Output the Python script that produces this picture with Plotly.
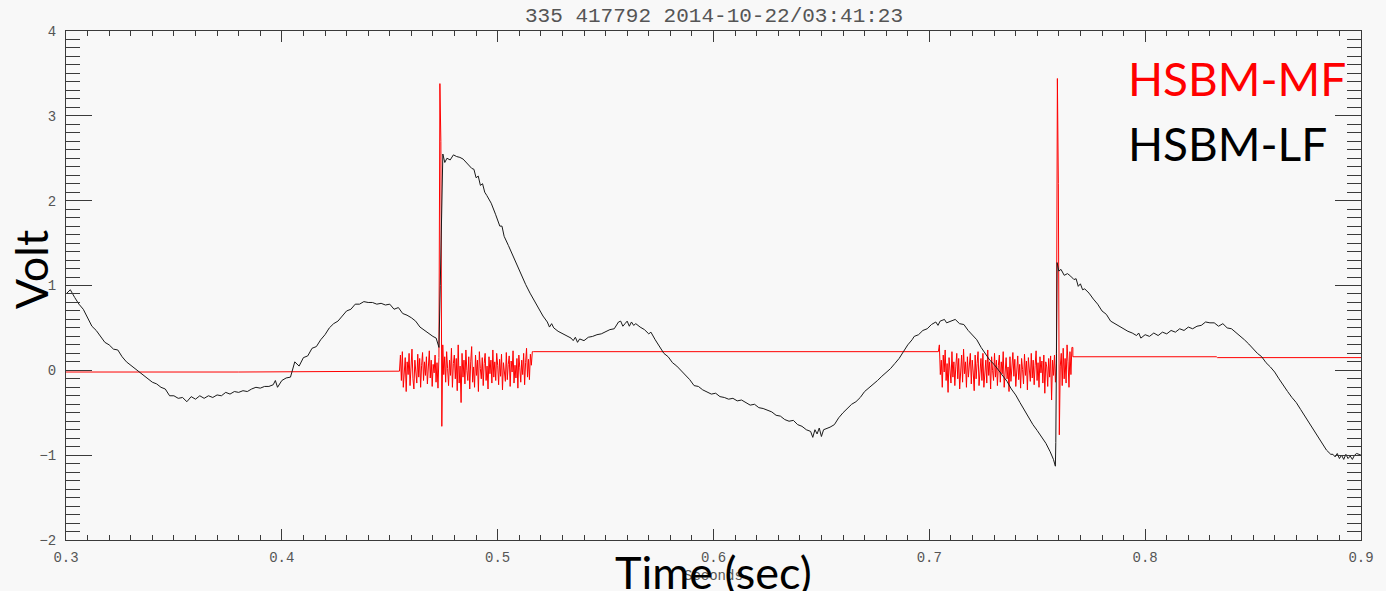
import numpy as np
import plotly.graph_objects as go

# ---------------- data ----------------
title_text = "335 417792 2014-10-22/03:41:23"
x_ticks = [0.3, 0.4, 0.5, 0.6, 0.7, 0.8, 0.9]
y_ticks = [-2, -1, 0, 1, 2, 3, 4]

# HSBM-LF (black) : time (s), volt
lf_time = [0.300, 0.302, 0.304, 0.306, 0.308, 0.310, 0.312, 0.314, 0.316, 0.318, 0.320, 0.322, 0.324, 0.326,
           0.328, 0.330, 0.332, 0.334, 0.336, 0.338, 0.340, 0.342, 0.344, 0.346, 0.348, 0.350, 0.352, 0.354,
           0.356, 0.358, 0.360, 0.362, 0.364, 0.366, 0.368, 0.370, 0.372, 0.374, 0.376, 0.378, 0.380, 0.382,
           0.384, 0.386, 0.388, 0.390, 0.392, 0.394, 0.396, 0.397, 0.398, 0.400, 0.402, 0.404, 0.405, 0.406,
           0.408, 0.410, 0.412, 0.414, 0.416, 0.418, 0.420, 0.422, 0.424, 0.426, 0.428, 0.430, 0.432, 0.434,
           0.436, 0.438, 0.440, 0.442, 0.444, 0.446, 0.448, 0.450, 0.452, 0.454, 0.456, 0.458, 0.460, 0.462,
           0.464, 0.466, 0.468, 0.470, 0.4715, 0.4722, 0.4728,
           0.4734, 0.4740, 0.4746, 0.4755, 0.4765, 0.478, 0.4795, 0.481, 0.4825, 0.484, 0.486, 0.488, 0.489,
           0.490, 0.491, 0.492, 0.493, 0.494, 0.495, 0.497, 0.499, 0.501, 0.502, 0.503, 0.505, 0.507, 0.509,
           0.511, 0.513, 0.515, 0.517, 0.519, 0.521, 0.523, 0.524, 0.525, 0.526, 0.528, 0.530, 0.532, 0.534,
           0.535, 0.536, 0.537, 0.538, 0.540, 0.542, 0.544, 0.546, 0.548, 0.550, 0.552, 0.554, 0.556, 0.557,
           0.558, 0.559, 0.560, 0.561, 0.562, 0.563, 0.564, 0.566, 0.568, 0.570, 0.571, 0.573, 0.575, 0.577,
           0.579, 0.581, 0.583, 0.585, 0.587, 0.589, 0.591, 0.593, 0.595, 0.597, 0.599, 0.601, 0.603, 0.605,
           0.607, 0.609, 0.611, 0.613, 0.615, 0.617, 0.619, 0.621, 0.623, 0.625, 0.627, 0.629, 0.631, 0.633,
           0.635, 0.637, 0.639, 0.641, 0.643, 0.645, 0.646, 0.647, 0.648, 0.649, 0.650, 0.651, 0.652, 0.654,
           0.656, 0.658, 0.660, 0.662, 0.664, 0.666, 0.668, 0.670, 0.672, 0.674, 0.676, 0.678, 0.680, 0.682,
           0.684, 0.686, 0.688, 0.690, 0.692, 0.693, 0.695, 0.697, 0.699, 0.701, 0.703, 0.704, 0.705, 0.707,
           0.708, 0.710, 0.712, 0.714, 0.716, 0.718, 0.720, 0.722, 0.724, 0.726, 0.728, 0.730, 0.732, 0.734,
           0.736, 0.738, 0.740, 0.742, 0.744, 0.746, 0.748, 0.750, 0.752, 0.754, 0.756, 0.7575, 0.7584, 0.7586,
           0.7589, 0.7592, 0.760, 0.761, 0.7625, 0.764, 0.7655, 0.767, 0.768, 0.769, 0.770, 0.771, 0.772, 0.774,
           0.776, 0.778, 0.780, 0.782, 0.784, 0.786, 0.788, 0.790, 0.792, 0.794, 0.796, 0.797, 0.798, 0.800,
           0.802, 0.804, 0.806, 0.808, 0.810, 0.812, 0.814, 0.816, 0.818, 0.820, 0.822, 0.824, 0.826, 0.828,
           0.830, 0.832, 0.834, 0.836, 0.838, 0.840, 0.842, 0.844, 0.846, 0.848, 0.850, 0.852, 0.854, 0.856,
           0.858, 0.860, 0.862, 0.864, 0.866, 0.868, 0.870, 0.872, 0.874, 0.876, 0.878, 0.880, 0.882, 0.884,
           0.886, 0.887, 0.888, 0.889, 0.890, 0.891, 0.892, 0.893, 0.894, 0.895, 0.896, 0.897, 0.898, 0.900]
lf_volt = [0.90, 0.95, 0.86, 0.78, 0.72, 0.62, 0.52, 0.47, 0.40, 0.33, 0.30, 0.25, 0.24, 0.16,
           0.10, 0.06, 0.02, -0.02, -0.05, -0.10, -0.14, -0.16, -0.20, -0.22, -0.30, -0.30, -0.33, -0.32,
           -0.37, -0.31, -0.34, -0.30, -0.33, -0.30, -0.32, -0.29, -0.30, -0.26, -0.28, -0.25, -0.26, -0.24,
           -0.25, -0.22, -0.20, -0.21, -0.19, -0.19, -0.17, -0.12, -0.20, -0.12, -0.09, -0.08, 0.02, 0.10,
           0.05, 0.15, 0.17, 0.26, 0.28, 0.36, 0.42, 0.50, 0.55, 0.58, 0.64, 0.70, 0.72, 0.78,
           0.78, 0.81, 0.80, 0.80, 0.78, 0.79, 0.77, 0.78, 0.72, 0.74, 0.67, 0.65, 0.62, 0.58,
           0.51, 0.47, 0.44, 0.40, 0.38, 0.31, 0.27,
           1.00, 1.90, 2.55, 2.45, 2.50, 2.48, 2.54, 2.52, 2.51, 2.49, 2.44, 2.38, 2.37,
           2.27, 2.29, 2.18, 2.20, 2.10, 2.06, 1.97, 1.84, 1.70, 1.70, 1.58, 1.47, 1.35, 1.25,
           1.13, 1.01, 0.91, 0.82, 0.72, 0.64, 0.57, 0.51, 0.55, 0.50, 0.46, 0.43, 0.41, 0.38,
           0.35, 0.39, 0.33, 0.37, 0.35, 0.39, 0.40, 0.42, 0.43, 0.46, 0.48, 0.49, 0.57, 0.58,
           0.52, 0.55, 0.58, 0.52, 0.57, 0.53, 0.55, 0.51, 0.48, 0.43, 0.45, 0.36, 0.28, 0.20,
           0.16, 0.09, 0.05, 0.00, -0.06, -0.11, -0.18, -0.19, -0.23, -0.26, -0.28, -0.27, -0.31, -0.32,
           -0.34, -0.33, -0.36, -0.35, -0.38, -0.41, -0.40, -0.44, -0.45, -0.47, -0.49, -0.53, -0.54, -0.58,
           -0.60, -0.59, -0.64, -0.66, -0.70, -0.72, -0.79, -0.70, -0.75, -0.68, -0.78, -0.70, -0.69, -0.67,
           -0.64, -0.56, -0.50, -0.45, -0.40, -0.37, -0.32, -0.25, -0.21, -0.17, -0.12, -0.07, -0.03, 0.02,
           0.08, 0.14, 0.22, 0.30, 0.36, 0.40, 0.42, 0.47, 0.49, 0.54, 0.57, 0.53, 0.58, 0.60,
           0.56, 0.58, 0.60, 0.55, 0.54, 0.47, 0.41, 0.36, 0.27, 0.19, 0.12, 0.07, 0.00, -0.07,
           -0.13, -0.22, -0.29, -0.38, -0.47, -0.55, -0.64, -0.71, -0.79, -0.86, -0.96, -1.05, -1.13, -0.85,
           0.20, 1.27, 1.17, 1.19, 1.12, 1.14, 1.11, 1.07, 1.08, 0.99, 1.02, 0.95, 0.96, 0.91,
           0.84, 0.78, 0.70, 0.66, 0.58, 0.55, 0.51, 0.49, 0.46, 0.44, 0.41, 0.44, 0.38, 0.42,
           0.40, 0.44, 0.41, 0.45, 0.43, 0.47, 0.45, 0.49, 0.47, 0.51, 0.49, 0.52, 0.53, 0.57,
           0.56, 0.56, 0.52, 0.55, 0.50, 0.49, 0.45, 0.41, 0.36, 0.31, 0.25, 0.20, 0.16, 0.09,
           0.04, -0.02, -0.10, -0.18, -0.25, -0.32, -0.38, -0.46, -0.54, -0.61, -0.69, -0.77, -0.86, -0.94,
           -0.99, -0.99, -1.02, -0.98, -1.04, -1.00, -1.05, -0.99, -1.04, -1.01, -1.05, -1.00, -0.98, -1.00]

# HSBM-MF (red): flat segments (time, volt) and two burst windows sampled evenly
mf_flat1_time = [0.300, 0.380, 0.4545]
mf_flat1_volt = [-0.02, -0.02, -0.01]
mf_burst1_window = [0.4545, 0.5165]
mf_burst1_volt = [-0.01, 0.18, -0.12, 0.22, -0.20, 0.05, 0.15, -0.25, 0.10, -0.05, 0.20, -0.18, 0.08, 0.25,
                  -0.10, -0.22, 0.12, 0.02, -0.15, 0.19, -0.08, 0.14, -0.20, 0.06, 0.21, -0.12, 0.10, -0.06,
                  0.16, -0.16, 0.04, 0.23, -0.09, 0.12, -0.19, 0.07, -0.03, 0.18, -0.14, 0.09, -0.21, 0.15,
                  3.38, 2.70, -0.66, 0.30, -0.05, 0.16, -0.14, 0.22, 0.02, -0.18, 0.12, -0.06, 0.26, -0.20,
                  0.08, 0.18, -0.10, 0.14, -0.24, 0.30, -0.15, 0.05, -0.38, 0.20, -0.08, 0.12, -0.16, 0.24,
                  0.00, -0.12, 0.16, -0.22, 0.10, 0.28, -0.14, 0.04, -0.20, 0.18, -0.06, 0.12, -0.25, 0.22,
                  0.02, -0.10, 0.15, -0.18, 0.08, 0.20, -0.12, 0.05, -0.22, 0.16, -0.04, 0.12, -0.15, 0.24,
                  -0.08, 0.10, -0.12, 0.20, 0.06, -0.17, 0.13, -0.07, 0.19, -0.23, 0.09, 0.01, -0.13, 0.21,
                  -0.11, 0.07, 0.17, -0.19, 0.11, -0.02, 0.23, -0.15, 0.06, -0.09, 0.14, -0.21, 0.18, 0.03,
                  -0.14, 0.12, -0.05, 0.20, -0.17, 0.09, 0.26, -0.08, 0.13, -0.11, 0.19, 0.06, 0.22, 0.22]
mf_flat2_time = [0.5165, 0.7042]
mf_flat2_volt = [0.22, 0.22]
mf_burst2_window = [0.7042, 0.7665]
mf_burst2_volt = [0.22, 0.30, -0.05, 0.12, -0.20, 0.18, -0.02, 0.24, -0.12, 0.08, -0.26, 0.15, 0.02, -0.15,
                  0.22, -0.08, 0.10, -0.18, 0.05, 0.20, -0.10, 0.14, -0.22, 0.06, 0.18, -0.14, 0.25, -0.04,
                  0.10, -0.20, 0.16, -0.08, 0.04, 0.20, -0.16, 0.12, -0.02, -0.24, 0.18, -0.10, 0.08, 0.22,
                  -0.18, 0.02, 0.14, -0.12, 0.20, -0.20, 0.06, 0.12, -0.15, 0.24, -0.06, 0.10, -0.22, 0.16,
                  0.00, -0.12, 0.20, -0.08, 0.12, -0.18, 0.06, 0.18, -0.14, 0.10, -0.04, 0.22, -0.20, 0.08,
                  0.15, -0.10, 0.04, -0.25, 0.16, -0.13, 0.09, 0.21, -0.07, 0.13, -0.19, 0.05, 0.17, -0.11,
                  0.07, -0.21, 0.14, 0.01, -0.16, 0.19, -0.06, 0.11, -0.23, 0.15, 0.03, -0.13, 0.20, -0.09,
                  0.12, -0.17, 0.06, 0.23, -0.12, 0.09, -0.20, 0.16, -0.03, 0.11, -0.15, 0.18, -0.27, 0.10,
                  0.04, -0.19, 0.14, -0.08, 0.17, -0.35, 0.12, -0.06, 0.18, -0.14, 0.08, 3.44, 2.20, -0.76,
                  0.05, 0.20, -0.18, 0.26, -0.10, 0.14, -0.15, 0.30, 0.10, -0.20, 0.22, -0.05, 0.27, 0.27]
mf_flat3_time = [0.7665, 0.8330, 0.8335, 0.900]
mf_flat3_volt = [0.16, 0.16, 0.15, 0.15]

# ---------------- build red series ----------------
b1_t = np.linspace(mf_burst1_window[0], mf_burst1_window[1], len(mf_burst1_volt))
b2_t = np.linspace(mf_burst2_window[0], mf_burst2_window[1], len(mf_burst2_volt))
mf_time = list(mf_flat1_time) + list(b1_t) + list(mf_flat2_time) + list(b2_t) + list(mf_flat3_time)
mf_volt = list(mf_flat1_volt) + list(mf_burst1_volt) + list(mf_flat2_volt) + list(mf_burst2_volt) + list(mf_flat3_volt)

BG = "#f8f8f8"
AX = "#3a3a3a"
LBL = "#555555"
MONO = "Liberation Mono, DejaVu Sans Mono, monospace"
BIG = "Lato, Open Sans, sans-serif"

fig = go.Figure()
fig.add_trace(go.Scatter(x=mf_time, y=mf_volt, mode="lines",
                         line=dict(color="#ff0000", width=1), showlegend=False, name="HSBM-MF"))
fig.add_trace(go.Scatter(x=lf_time, y=lf_volt, mode="lines",
                         line=dict(color="#1a1a1a", width=1), showlegend=False, name="HSBM-LF"))

fig.update_layout(
    width=1386, height=591,
    margin=dict(l=66, r=14, t=31, b=51),
    paper_bgcolor=BG, plot_bgcolor=BG,
    showlegend=False,
    xaxis=dict(range=[0.3, 0.9], tickmode="array", tickvals=x_ticks,
               ticktext=[f"{v:.1f}" for v in x_ticks],
               ticks="inside", ticklen=11, tickwidth=1, tickcolor=AX,
               showline=True, linecolor=AX, linewidth=1, mirror="ticks",
               showgrid=False, zeroline=False,
               minor=dict(ticks="inside", ticklen=5, dtick=0.01, tick0=0.3, tickcolor=AX, showgrid=False),
               tickfont=dict(family=MONO, size=14, color=LBL), ticklabelstandoff=4),
    yaxis=dict(range=[-2, 4], tickmode="array", tickvals=y_ticks,
               ticktext=[str(v) if v >= 0 else "\u2212" + str(-v) for v in y_ticks],
               ticks="inside", ticklen=26, tickwidth=1, tickcolor=AX,
               showline=True, linecolor=AX, linewidth=1, mirror="ticks",
               showgrid=False, zeroline=False,
               minor=dict(ticks="inside", ticklen=14, dtick=0.1, tick0=-2, tickcolor=AX, showgrid=False),
               tickfont=dict(family=MONO, size=14, color=LBL), ticklabelstandoff=6),
    annotations=[
        dict(text=title_text, xref="paper", yref="paper", x=0.5, y=(540 - 17) / 509,
             xanchor="center", yanchor="middle", showarrow=False,
             font=dict(family=MONO, size=21, color=LBL)),
        dict(text="Seconds", xref="paper", yref="paper", x=0.5, y=(540 - 576) / 509,
             xanchor="center", yanchor="middle", showarrow=False,
             font=dict(family=MONO, size=14, color=LBL)),
        dict(text="Time (sec)", xref="paper", yref="paper", x=0.5, y=(540 - 572) / 509,
             xanchor="center", yanchor="middle", showarrow=False,
             font=dict(family=BIG, size=45, color="#000000")),
        dict(text="Volt", xref="paper", yref="paper", x=(31 - 66) / 1306, y=(540 - 270) / 509,
             xanchor="center", yanchor="middle", showarrow=False, textangle=-90,
             font=dict(family=BIG, size=45, color="#000000")),
        dict(text="HSBM-MF", xref="paper", yref="paper", x=(1135 - 66) / 1306, y=(540 - 78) / 509,
             xanchor="left", yanchor="middle", showarrow=False,
             font=dict(family=BIG, size=46, color="#ff0000")),
        dict(text="HSBM-LF", xref="paper", yref="paper", x=(1135 - 66) / 1306, y=(540 - 143) / 509,
             xanchor="left", yanchor="middle", showarrow=False,
             font=dict(family=BIG, size=46, color="#000000")),
    ],
)

fig.write_html("out.html")
